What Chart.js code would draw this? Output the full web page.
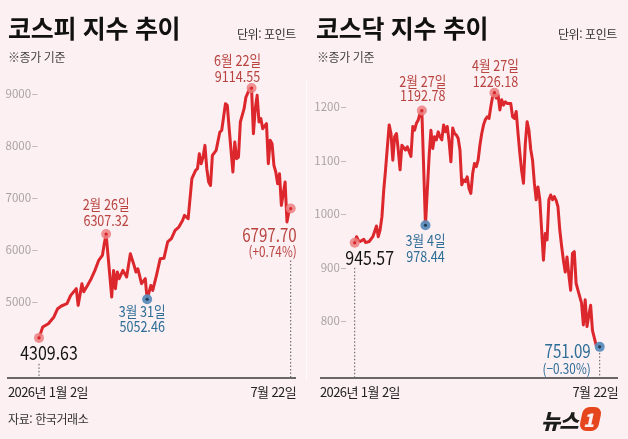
<!DOCTYPE html>
<html lang="ko">
<head>
<meta charset="utf-8">
<script src="https://cdn.jsdelivr.net/npm/chart.js@4.4.1/dist/chart.umd.min.js"></script>
<style>
  html, body { margin: 0; padding: 0; }
  body {
    width: 628px; height: 439px; position: relative; overflow: hidden;
    background: #fcf0f3;
    font-family: "Noto Sans CJK KR", "Noto Sans", sans-serif; color: #222;
  }
  .abs { position: absolute; white-space: nowrap; }
  .title { top: 15px; font-size: 25px; line-height: 25px; font-weight: 700; color: #111; letter-spacing: -0.3px; }
  .unit { top: 28px; font-size: 12px; line-height: 12px; color: #333; letter-spacing: -0.4px; }
  .note { top: 51px; font-size: 12px; line-height: 12px; color: #444; letter-spacing: -0.4px; }
  .xlab { top: 385px; font-size: 13px; line-height: 13px; color: #222; letter-spacing: -0.6px; }
  .src { top: 413px; left: 8px; font-size: 12px; line-height: 12px; color: #333; letter-spacing: -0.4px; }
  .sep { left: 306px; top: 80px; width: 1px; height: 300px; background: rgba(255,255,255,0.8); }
  .logo { left: 541px; top: 407px; height: 26px; }
  .logo .word { font-size: 21px; line-height: 26px; font-weight: 900; font-style: italic; color: #1c1c1c; letter-spacing: -1px; }
  .logo .one {
    display: inline-block; width: 19px; height: 24px; margin-left: 3px; vertical-align: top;
    background: #e6461e; border-radius: 6px 8px 6px 8px; transform: skewX(-12deg);
    color: #fcf0f3; font-size: 18px; line-height: 24px; font-weight: 900; text-align: center;
  }
  canvas { position: absolute; top: 0; }
</style>
</head>
<body>
<canvas id="kospiChart" width="306" height="439" style="left:0"></canvas>
<canvas id="kosdaqChart" width="314" height="439" style="left:314px"></canvas>
<div class="abs sep"></div>

<div class="abs title" style="left:8px">코스피 지수 추이</div>
<div class="abs title" style="left:316px">코스닥 지수 추이</div>
<div class="abs unit" style="right:332px">단위: 포인트</div>
<div class="abs unit" style="right:11px">단위: 포인트</div>
<div class="abs note" style="left:8px">※종가 기준</div>
<div class="abs note" style="left:317px">※종가 기준</div>

<div class="abs xlab" id="kospiFirst" style="left:8px"></div>
<div class="abs xlab" id="kospiLast" style="right:332px"></div>
<div class="abs xlab" id="kosdaqFirst" style="left:320px"></div>
<div class="abs xlab" id="kosdaqLast" style="right:10px"></div>

<div class="abs src">자료: 한국거래소</div>
<div class="abs logo"><span class="word">뉴스</span><span class="one">1</span></div>

<script>
// trading-day index (0 = 2026-01-02, 135 = 07-22) and closing values
const kospiDays = [0, 2, 5, 8, 10, 12, 15, 17, 20, 21, 23, 24, 26, 28, 30, 32, 34, 35, 36,
  39, 40, 41, 42, 43, 45, 47, 49, 51, 52, 53, 55, 57, 58, 60, 61, 63, 65, 67, 69, 71, 73,
  75, 77, 78, 80, 82, 84, 85, 86, 87, 88, 89, 90, 91, 92, 93, 95, 97, 98, 100, 101, 102,
  104, 105, 106, 107, 108, 110, 111, 113, 114, 115, 116, 117, 118, 119, 120, 122, 123,
  124, 125, 126, 127, 128, 129, 130, 131, 132, 133, 134, 135];
const kospiValues = [4309.63, 4519, 4583, 4712, 4871, 4923, 4967, 5127, 5256, 4935, 5352,
  5198, 5319, 5448, 5608, 5800, 5896, 6121, 6307.32,
  5096, 5608, 5256, 5577, 5448, 5608, 5481, 5929, 5704, 5577, 5640, 5352, 5448, 5052.46,
  5319, 5223, 5512, 5830, 5840, 6154, 6217, 6377,
  6442, 6569, 6665, 6602, 7371, 7531, 7563, 7852, 7660, 7788, 8012, 7563, 7307, 7242,
  7819, 7915, 8269, 8300, 8813, 8781, 8333,
  7500, 8077, 7756, 7788, 8462, 8717, 8942, 9102, 9114.55, 8237, 8717, 8974, 8462, 8526,
  8333, 8429, 7660,
  8109, 8045, 7628, 7500, 7275, 7467, 6858, 7083, 7307, 6538, 6731, 6797.70];

const kosdaqDays = [0, 1, 2, 3, 5, 6, 8, 10, 12, 13, 14, 15, 16, 17, 18, 19, 20, 21, 22, 23,
  24, 25, 26, 28, 29, 31, 32, 33, 34, 35, 36, 37, 39, 41, 42, 43, 44, 45, 46, 47, 48, 49,
  50, 51, 52, 53, 54, 55, 56, 57, 58, 59, 60, 61, 62, 63, 64, 65, 66, 67, 68, 69, 70, 71,
  72, 73, 74, 75, 76, 77, 78, 79, 80, 81, 82, 83, 84, 85, 86, 87, 88, 89, 90, 91, 92, 93,
  94, 95, 96, 97, 98, 99, 100, 101, 102, 103, 104, 105, 106, 107, 108, 109, 110, 111, 112,
  113, 114, 115, 116, 117, 118, 119, 120, 121, 122, 123, 124, 125, 126, 127, 128, 129, 130,
  131, 133, 135];
const kosdaqValues = [945.57, 957, 950, 948, 952, 946, 948, 957, 977, 957, 970, 994, 1044,
  1082, 1125, 1166, 1150, 1100, 1144, 1150,
  1119, 1082, 1128, 1119, 1125, 1107, 1163, 1156, 1169, 1175, 1188, 1192.78, 978.44, 1107,
  1156, 1122, 1144, 1138, 1153, 1144, 1138, 1166,
  1153, 1163, 1135, 1097, 1160, 1150, 1147, 1141, 1119, 1054, 1063, 1060, 1069, 1047, 1038,
  1075, 1094, 1088, 1100, 1128, 1150, 1166,
  1176, 1181, 1178, 1200, 1219, 1226.18, 1216, 1222, 1194, 1213, 1203, 1209, 1206, 1206,
  1206, 1181, 1178, 1191, 1150, 1113, 1080, 1057,
  1130, 1172, 1156, 1120, 1100, 1057, 1026, 1050, 1026, 970, 913, 963, 951, 1026, 1035,
  1026, 1032, 1025, 1013,
  970, 940, 913, 891, 919, 885, 857, 926, 929, 870, 857, 845, 833, 792, 839, 789, 810, 829,
  782, 755, 751.09];

const kospiTicks = [5000, 6000, 7000, 8000, 9000];
const kosdaqTicks = [800, 900, 1000, 1100, 1200];
const dateLabels = ['2026년 1월 2일', '7월 22일'];

const kospiMarkDays = [0, 36, 58, 114, 135];
const kospiMarkText = [['4309.63'], ['2월 26일', '6307.32'], ['3월 31일', '5052.46'],
  ['6월 22일', '9114.55'], ['6797.70', '(+0.74%)']];
const kosdaqMarkDays = [0, 37, 39, 77, 135];
const kosdaqMarkText = [['945.57'], ['2월 27일', '1192.78'], ['3월 4일', '978.44'],
  ['4월 27일', '1226.18'], ['751.09', '(−0.30%)']];

document.getElementById('kospiFirst').textContent = dateLabels[0];
document.getElementById('kospiLast').textContent = dateLabels[1];
document.getElementById('kosdaqFirst').textContent = dateLabels[0];
document.getElementById('kosdaqLast').textContent = dateLabels[1];

const TONES = {
  red:   { text: '#b8433f', dot: 'rgba(236,128,128,0.85)', core: '#d8262c' },
  blue:  { text: '#2d6d96', dot: 'rgba(92,140,186,0.95)', core: '#1d3c58' },
  black: { text: '#141414' }
};
const FONT = '"Noto Sans CJK KR", "Noto Sans", sans-serif';
const SQUEEZE = 0.84;

function drawText(ctx, text, x, y, align, size, color) {
  ctx.save();
  ctx.translate(x, y);
  ctx.scale(SQUEEZE, 1);
  ctx.font = size + 'px ' + FONT;
  ctx.fillStyle = color;
  ctx.textAlign = align;
  ctx.textBaseline = 'alphabetic';
  ctx.fillText(text, 0, 0);
  ctx.restore();
}

// draws base line, dotted drop lines, highlighted points and their labels
const markPlugin = {
  id: 'marks',
  afterDatasetsDraw(chart, args, opts) {
    const { ctx, chartArea, scales: { x, y } } = chart;
    const data = chart.data.datasets[0].data;
    ctx.save();
    ctx.strokeStyle = '#3a3a3a';
    ctx.lineWidth = 1.5;
    ctx.beginPath();
    ctx.moveTo(opts.axisFrom, chartArea.bottom);
    ctx.lineTo(opts.axisTo, chartArea.bottom);
    ctx.stroke();

    opts.days.forEach((day, i) => {
      const st = opts.styles[i];
      const pt = data.find(p => p.x === day);
      const px = x.getPixelForValue(day);
      const py = y.getPixelForValue(pt.y);

      if (st.drop) {
        ctx.save();
        ctx.strokeStyle = '#555';
        ctx.lineWidth = 1;
        ctx.setLineDash([1.5, 2]);
        ctx.beginPath();
        ctx.moveTo(px, py + st.drop);
        ctx.lineTo(px, chartArea.bottom - 1);
        ctx.stroke();
        ctx.restore();
      }

      const tone = TONES[st.dot];
      ctx.beginPath();
      ctx.fillStyle = tone.dot;
      ctx.arc(px, py, 5, 0, Math.PI * 2);
      ctx.fill();
      ctx.beginPath();
      ctx.fillStyle = tone.core;
      ctx.arc(px, py, 1.6, 0, Math.PI * 2);
      ctx.fill();

      opts.texts[i].forEach((t, k) => {
        drawText(ctx, t, px + st.dx, py + st.dy[k], st.align, st.size[k], TONES[st.tone].text);
      });
    });
    ctx.restore();
  }
};

function makeChart(id, days, values, ticks, yMin, yMax, axisWidth, labelPad, padRight, marks) {
  const ctx = document.getElementById(id).getContext('2d');
  return new Chart(ctx, {
    type: 'line',
    data: {
      datasets: [{
        data: days.map((d, i) => ({ x: d, y: values[i] })),
        borderColor: '#dc272d',
        borderWidth: 3,
        borderJoinStyle: 'round',
        borderCapStyle: 'round',
        pointRadius: 0,
        tension: 0,
        clip: false
      }]
    },
    options: {
      responsive: false,
      animation: false,
      devicePixelRatio: 1,
      layout: { padding: { top: 80, bottom: 61, left: 0, right: padRight } },
      plugins: { legend: { display: false }, tooltip: { enabled: false }, marks: marks },
      scales: {
        x: { type: 'linear', min: 0, max: 135, display: false },
        y: {
          min: yMin,
          max: yMax,
          border: { display: false },
          grid: { display: false, drawTicks: false },
          afterFit: s => { s.width = axisWidth; },
          afterBuildTicks: s => { s.ticks = ticks.map(v => ({ value: v })); },
          ticks: {
            padding: labelPad,
            color: '#aaa3a6',
            font: { family: FONT, size: 11.5 },
            callback: v => v + '\u200a–'
          }
        }
      }
    },
    plugins: [markPlugin]
  });
}

makeChart('kospiChart', kospiDays, kospiValues, kospiTicks, 3538.5, 9269.2, 39, 1, 15.3, {
  axisFrom: 7, axisTo: 296,
  days: kospiMarkDays,
  texts: kospiMarkText,
  styles: [
    { dot: 'red',  tone: 'black', dx: 10, dy: [22], size: [19], align: 'center', drop: 26 },
    { dot: 'red',  tone: 'red',   dx: 0,  dy: [-24, -8], size: [15, 15], align: 'center' },
    { dot: 'blue', tone: 'blue',  dx: -5, dy: [18, 33], size: [15, 15], align: 'center' },
    { dot: 'red',  tone: 'red',   dx: -14, dy: [-22, -6], size: [15, 15], align: 'center' },
    { dot: 'red',  tone: 'red',   dx: 6,  dy: [33, 48], size: [18, 14], align: 'right', drop: 52 }
  ]
});

makeChart('kosdaqChart', kosdaqDays, kosdaqValues, kosdaqTicks, 692.9, 1249.9, 40.7, 8, 28.3, {
  axisFrom: 6, axisTo: 304,
  days: kosdaqMarkDays,
  texts: kosdaqMarkText,
  styles: [
    { dot: 'red',  tone: 'black', dx: 15, dy: [22], size: [19], align: 'center', drop: 25 },
    { dot: 'red',  tone: 'red',   dx: 1,  dy: [-24, -10], size: [15, 15], align: 'center' },
    { dot: 'blue', tone: 'blue',  dx: 0,  dy: [21, 37], size: [15, 15], align: 'center' },
    { dot: 'red',  tone: 'red',   dx: 1,  dy: [-22, -6], size: [15, 15], align: 'center' },
    { dot: 'blue', tone: 'blue',  dx: -9, dy: [11, 27], size: [18, 14], align: 'right', drop: 6 }
  ]
});
</script>
</body>
</html>
